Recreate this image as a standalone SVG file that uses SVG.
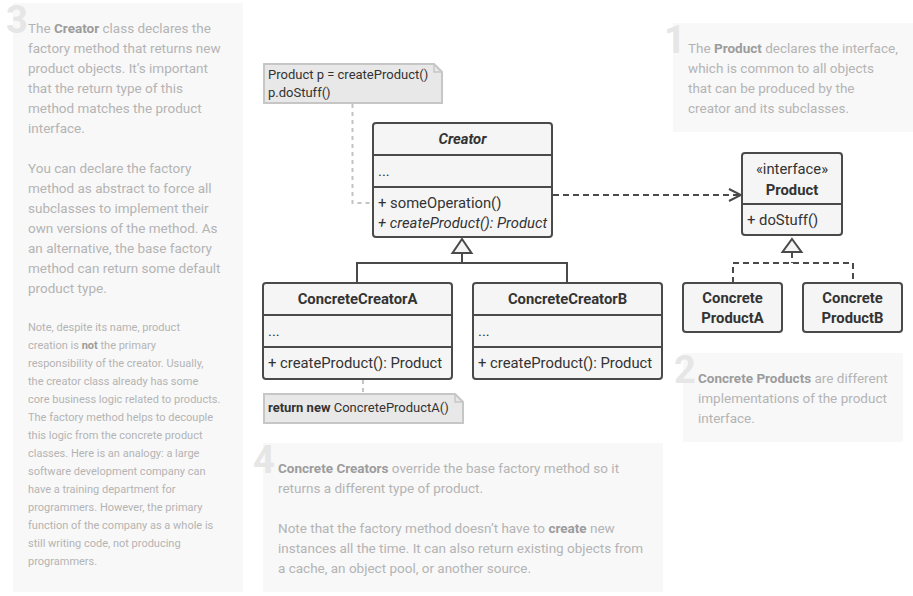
<svg xmlns="http://www.w3.org/2000/svg" width="913" height="596" viewBox="0 0 913 596">
<style>
.panel{fill:#f8f8f8}
.num{font-family:Roboto,"Liberation Sans",sans-serif;font-weight:bold;font-size:38px;fill:#e6e6e6}
.pt{font-family:Roboto,"Liberation Sans",sans-serif;font-size:13.5px;fill:#b4b4b4}
.ps{font-family:Roboto,"Liberation Sans",sans-serif;font-size:11px;fill:#b4b4b4}
.b{font-weight:bold;fill:#9c9c9c}
.box{fill:#f5f5f5;stroke:#4a4a4a;stroke-width:2}
.div{stroke:#4a4a4a;stroke-width:2;fill:none}
.t{font-family:Roboto,"Liberation Sans",sans-serif;font-size:14.8px;fill:#333}
.tb{font-weight:bold}
.ti{font-style:italic}
.c{text-anchor:middle}
.note{fill:#e8e8e8;stroke:#c6c6c6;stroke-width:2}
.nt{font-family:Roboto,"Liberation Sans",sans-serif;font-size:13px;fill:#333}
.gen{fill:#f5f5f5;stroke:#4a4a4a;stroke-width:2}
.solid{stroke:#4a4a4a;stroke-width:2;fill:none}
.dash{stroke:#4a4a4a;stroke-width:2;fill:none;stroke-dasharray:6 4}
.ndash{stroke:#c4c4c4;stroke-width:2;fill:none;stroke-dasharray:4 4}
</style>
<defs>
<marker id="open" markerWidth="14" markerHeight="14" refX="13" refY="7" orient="auto" markerUnits="userSpaceOnUse">
<path d="M1,1 L13,7 L1,13" fill="none" stroke="#4a4a4a" stroke-width="2"/>
</marker>
</defs>

<g id="panel3">
<rect class="panel" x="13" y="3" width="230" height="589"/>
<text class="num" x="6" y="33">3</text>
<text class="pt" x="28" y="33">The <tspan class="b">Creator</tspan> class declares the</text>
<text class="pt" x="28" y="53">factory method that returns new</text>
<text class="pt" x="28" y="73">product objects. It’s important</text>
<text class="pt" x="28" y="93">that the return type of this</text>
<text class="pt" x="28" y="113">method matches the product</text>
<text class="pt" x="28" y="133">interface.</text>
<text class="pt" x="28" y="173">You can declare the factory</text>
<text class="pt" x="28" y="193">method as abstract to force all</text>
<text class="pt" x="28" y="213">subclasses to implement their</text>
<text class="pt" x="28" y="233">own versions of the method. As</text>
<text class="pt" x="28" y="253">an alternative, the base factory</text>
<text class="pt" x="28" y="273">method can return some default</text>
<text class="pt" x="28" y="293">product type.</text>
<text class="ps" x="28" y="331">Note, despite its name, product</text>
<text class="ps" x="28" y="349">creation is <tspan class="b">not</tspan> the primary</text>
<text class="ps" x="28" y="367">responsibility of the creator. Usually,</text>
<text class="ps" x="28" y="385">the creator class already has some</text>
<text class="ps" x="28" y="403">core business logic related to products.</text>
<text class="ps" x="28" y="421">The factory method helps to decouple</text>
<text class="ps" x="28" y="439">this logic from the concrete product</text>
<text class="ps" x="28" y="457">classes. Here is an analogy: a large</text>
<text class="ps" x="28" y="475">software development company can</text>
<text class="ps" x="28" y="493">have a training department for</text>
<text class="ps" x="28" y="511">programmers. However, the primary</text>
<text class="ps" x="28" y="529">function of the company as a whole is</text>
<text class="ps" x="28" y="547">still writing code, not producing</text>
<text class="ps" x="28" y="565">programmers.</text>
</g>

<g id="panel1">
<rect class="panel" x="673" y="23" width="240" height="109"/>
<text class="num" x="664" y="53">1</text>
<text class="pt" x="688" y="53">The <tspan class="b">Product</tspan> declares the interface,</text>
<text class="pt" x="688" y="73">which is common to all objects</text>
<text class="pt" x="688" y="93">that can be produced by the</text>
<text class="pt" x="688" y="113">creator and its subclasses.</text>
</g>

<g id="panel2">
<rect class="panel" x="683" y="353" width="220" height="89"/>
<text class="num" x="674" y="383">2</text>
<text class="pt" x="698" y="383"><tspan class="b">Concrete Products</tspan> are different</text>
<text class="pt" x="698" y="403">implementations of the product</text>
<text class="pt" x="698" y="423">interface.</text>
</g>

<g id="panel4">
<rect class="panel" x="263" y="443" width="400" height="149"/>
<text class="num" x="253" y="473">4</text>
<text class="pt" x="278" y="473"><tspan class="b">Concrete Creators</tspan> override the base factory method so it</text>
<text class="pt" x="278" y="493">returns a different type of product.</text>
<text class="pt" x="278" y="533">Note that the factory method doesn’t have to <tspan class="b">create</tspan> new</text>
<text class="pt" x="278" y="553">instances all the time. It can also return existing objects from</text>
<text class="pt" x="278" y="573">a cache, an object pool, or another source.</text>
</g>

<g id="connectors">
<path class="ndash" d="M352.5,104 V203 H372"/>
<path class="ndash" d="M363,380 V392"/>
<path class="dash" d="M553,195 H741" marker-end="url(#open)"/>
<path class="solid" d="M462,253 V263 M357,283 V263 H567 V283"/>
<path class="gen" d="M462,239 L471.5,253 L452.5,253 Z"/>
<path class="dash" d="M792,252 V263 M733,283 V263 H853 V283"/>
<path class="gen" d="M792,239 L801.5,252 L782.5,252 Z"/>
</g>

<g id="note1">
<path class="note" d="M264,64 H434 L442,72 V103 H264 Z"/>
<path d="M434,64 V72 H442" fill="none" stroke="#c6c6c6" stroke-width="1.5"/>
<text class="nt" x="268" y="79">Product p = createProduct()</text>
<text class="nt" x="268" y="97">p.doStuff()</text>
</g>

<g id="creator">
<rect class="box" x="373" y="123" width="179" height="114" rx="3"/>
<path class="div" d="M373,155 H552 M373,187 H552"/>
<text class="t tb ti c" x="462.5" y="144">Creator</text>
<text class="t" x="378" y="176">...</text>
<text class="t" x="378" y="208">+ someOperation()</text>
<text class="t ti" x="378" y="228">+ createProduct(): Product</text>
</g>

<g id="concreteCreatorA">
<rect class="box" x="263" y="283" width="189" height="96" rx="3"/>
<path class="div" d="M263,315 H452 M263,347 H452"/>
<text class="t tb c" x="357.5" y="304">ConcreteCreatorA</text>
<text class="t" x="268" y="336">...</text>
<text class="t" x="268" y="368">+ createProduct(): Product</text>
</g>

<g id="concreteCreatorB">
<rect class="box" x="473" y="283" width="189" height="96" rx="3"/>
<path class="div" d="M473,315 H662 M473,347 H662"/>
<text class="t tb c" x="567.5" y="304">ConcreteCreatorB</text>
<text class="t" x="478" y="336">...</text>
<text class="t" x="478" y="368">+ createProduct(): Product</text>
</g>

<g id="note2">
<path class="note" d="M264,394 H455 L463,402 V423 H264 Z"/>
<path d="M455,394 V402 H463" fill="none" stroke="#c6c6c6" stroke-width="1.5"/>
<text class="nt" x="268" y="412"><tspan font-weight="bold">return new</tspan> ConcreteProductA()</text>
</g>

<g id="product">
<rect class="box" x="742" y="153" width="100" height="82" rx="3"/>
<path class="div" d="M742,204 H842"/>
<text class="t c" x="792" y="174">«interface»</text>
<text class="t tb c" x="792" y="195">Product</text>
<text class="t" x="747" y="225">+ doStuff()</text>
</g>

<g id="concreteProductA">
<rect class="box" x="683" y="283" width="99" height="49" rx="3"/>
<text class="t tb c" x="732.5" y="303">Concrete</text>
<text class="t tb c" x="732.5" y="323">ProductA</text>
</g>

<g id="concreteProductB">
<rect class="box" x="803" y="283" width="99" height="49" rx="3"/>
<text class="t tb c" x="852.5" y="303">Concrete</text>
<text class="t tb c" x="852.5" y="323">ProductB</text>
</g>
</svg>
